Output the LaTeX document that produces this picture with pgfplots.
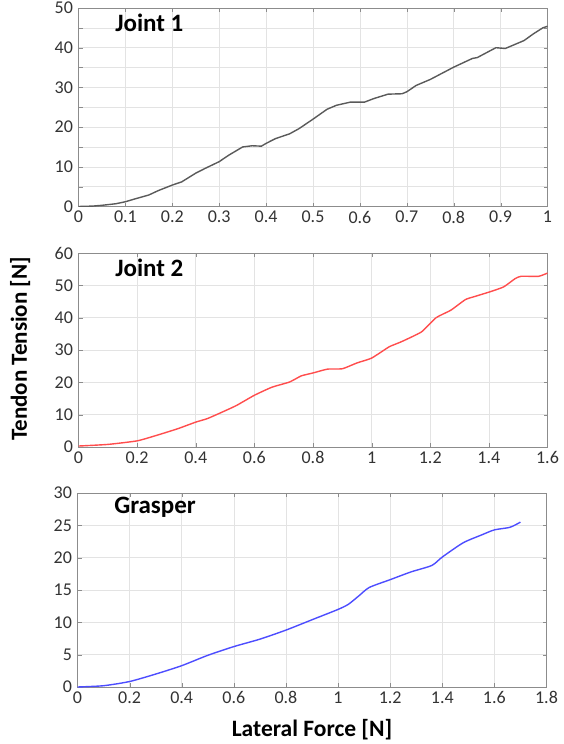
\documentclass[border=0pt]{standalone}
\usepackage{fontspec}
\setmainfont{Carlito}
\usepackage{pgfplots}
\pgfplotsset{compat=1.18}
\definecolor{jgray}{HTML}{5A5A5A}
\definecolor{jred}{HTML}{FF4D4D}
\definecolor{jblue}{HTML}{4D4DFF}

\pgfplotsset{
  panel/.style={
    scale only axis,
    width=469pt,
    axis line style={black!45, line width=0.8pt},
    tick align=inside,
    major tick length=4pt,
    minor tick length=4pt,
    tick style={black!45},
    grid=major,
    grid style={black!11, line width=0.6pt},
    minor grid style={black!11, line width=0.6pt},
    ticklabel style={font=\fontsize{18}{18}\selectfont, text=black!80},
    /pgf/number format/assume math mode=true,
    yticklabel style={xshift=-2pt},
    xticklabel style={yshift=-1pt},
  },
}
\tikzset{ttl/.style={font=\bfseries\fontsize{25}{25}\selectfont, anchor=base west}}

\begin{document}
\begin{tikzpicture}
\path[use as bounding box] (0,0) rectangle (563pt,-744pt);

% Joint 1
\begin{axis}[panel, at={(78.5pt,-206.5pt)}, anchor=south west, height=198.5pt,
    xmin=0, xmax=1, ymin=0, ymax=50,
    xtick={0,0.1,0.2,0.3,0.4,0.5,0.6,0.7,0.8,0.9,1},
    ytick={0,10,20,30,40,50},
    minor y tick num=1, yminorgrids]
\addplot[jgray, line width=1.4pt] coordinates {
(0,0) (0.03,0.1) (0.05,0.3) (0.08,0.7) (0.1,1.2) (0.12,1.9) (0.15,2.9) (0.17,4.0)
(0.2,5.4) (0.22,6.2) (0.25,8.4) (0.27,9.6) (0.3,11.3) (0.32,12.9) (0.35,15.0)
(0.37,15.3) (0.39,15.2) (0.4,15.9) (0.42,17.1) (0.45,18.3) (0.47,19.6) (0.5,22.0)
(0.53,24.5) (0.55,25.5) (0.58,26.3) (0.61,26.3) (0.63,27.2) (0.66,28.3) (0.69,28.4)
(0.7,28.9) (0.72,30.5) (0.75,32.0) (0.8,35.1) (0.84,37.3) (0.85,37.5) (0.89,40.0)
(0.91,39.8) (0.95,41.8) (0.97,43.5) (0.99,45.0) (1.0,45.4)
};
\node[ttl] at (rel axis cs:0.071,0.881) {Joint 1};
\end{axis}

% Joint 2
\begin{axis}[panel, at={(78.5pt,-447pt)}, anchor=south west, height=194pt,
    xmin=0, xmax=1.6, ymin=0, ymax=60,
    xtick={0,0.2,0.4,0.6,0.8,1,1.2,1.4,1.6},
    ytick={0,10,20,30,40,50,60}]
\addplot[jred, line width=1.4pt, smooth, tension=0.3] coordinates {
(0,0.3) (0.1,0.8) (0.2,1.9) (0.27,3.7) (0.34,5.7) (0.4,7.7) (0.44,8.8) (0.5,11.2)
(0.54,12.9) (0.6,16.0) (0.66,18.5) (0.72,20.1) (0.76,22.0) (0.8,22.9) (0.85,24.1)
(0.9,24.2) (0.95,26.0) (1.0,27.5) (1.06,31.0) (1.1,32.5) (1.17,35.6) (1.22,40.0)
(1.27,42.3) (1.32,45.6) (1.35,46.5) (1.4,47.9) (1.45,49.5) (1.49,52.1) (1.51,52.8)
(1.57,52.8) (1.6,53.8)
};
\node[ttl] at (rel axis cs:0.071,0.878) {Joint 2};
\end{axis}

% Grasper
\begin{axis}[panel, at={(77.5pt,-687pt)}, anchor=south west, height=194pt,
    xmin=0, xmax=1.8, ymin=0, ymax=30,
    xtick={0,0.2,0.4,0.6,0.8,1,1.2,1.4,1.6,1.8},
    ytick={0,5,10,15,20,25,30}]
\addplot[jblue, line width=1.4pt, smooth, tension=0.4] coordinates {
(0,0) (0.1,0.2) (0.2,0.85) (0.3,2.0) (0.4,3.3) (0.5,4.9) (0.6,6.25) (0.7,7.4)
(0.8,8.8) (0.9,10.4) (1.0,12.0) (1.04,12.8) (1.08,14.1) (1.12,15.4) (1.2,16.6)
(1.28,17.8) (1.36,18.8) (1.4,20.1) (1.48,22.3) (1.55,23.5) (1.6,24.3) (1.66,24.7)
(1.7,25.5)
};
\node[ttl] at (rel axis cs:0.071,0.892) {Grasper};
\end{axis}

\node[rotate=90, anchor=base, font=\bfseries\fontsize{23}{23}\selectfont] at (27pt,-349pt) {Tendon Tension [N]};
\node[anchor=base, font=\bfseries\fontsize{23.5}{23.5}\selectfont] at (312pt,-736pt) {Lateral Force [N]};
\end{tikzpicture}
\end{document}
